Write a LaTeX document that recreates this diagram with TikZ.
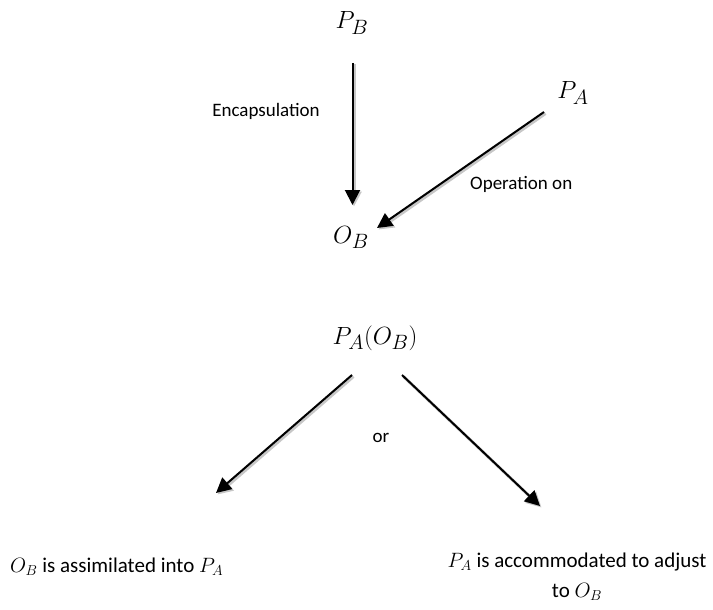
\documentclass[tikz,border=0pt]{standalone}
\usepackage{fontspec}
\setmainfont{Carlito}
\usetikzlibrary{arrows.meta}
\begin{document}
\begin{tikzpicture}[x=1pt,y=-1pt,
  lbl/.style={inner sep=0pt, font=\fontsize{19}{23}\selectfont},
  big/.style={inner sep=0pt, font=\fontsize{21}{30}\selectfont},
  mth/.style={inner sep=0pt, anchor=base, font=\fontsize{30}{34}\selectfont},
  shade/.style={preaction={draw=black!22, line width=3pt,
      transform canvas={shift={(1.5pt,-1.5pt)}}}},
  arrowline/.style={line width=2pt, shade, -{Triangle[length=15pt,width=15pt]}}]
  \useasboundingbox (0,0) rectangle (713,610);

  % upper part: encapsulation of P_B and operation of P_A
  \node[mth] (pb)  at (352,29)  {$P_B$};
  \node[mth] (ob)  at (351,243) {$O_B$};
  \node[mth] (pa)  at (573,99)  {$P_A$};
  \node[lbl] (enc) at (266,111) {Encapsulation};
  \node[lbl, anchor=west] (opn) at (470,184) {Operation on};

  \coordinate (pb-out) at (352.5,63);
  \coordinate (ob-in1) at (352.5,205);
  \coordinate (pa-out) at (544,112);
  \coordinate (ob-in2) at (377,228);
  \draw[arrowline] (pb-out) -- (ob-in1);
  \draw[arrowline] (pa-out) -- (ob-in2);

  % lower part: the two outcomes
  \node[mth] (pab) at (375,344) {$P_A(O_B)$};
  \node[lbl] (or)  at (381,438) {or};
  \node[big, anchor=west] (assim) at (10,567) {$O_B$ is assimilated into $P_A$};
  \node[big, anchor=north, align=center] (accom) at (577,553)
    {$P_A$ is accommodated to adjust\\to $O_B$};

  \coordinate (pab-l) at (352,375);
  \coordinate (pab-r) at (402,375);
  \coordinate (assim-in) at (216,493);
  \coordinate (accom-in) at (540,506);
  \draw[arrowline] (pab-l) -- (assim-in);
  \draw[arrowline] (pab-r) -- (accom-in);
\end{tikzpicture}
\end{document}
